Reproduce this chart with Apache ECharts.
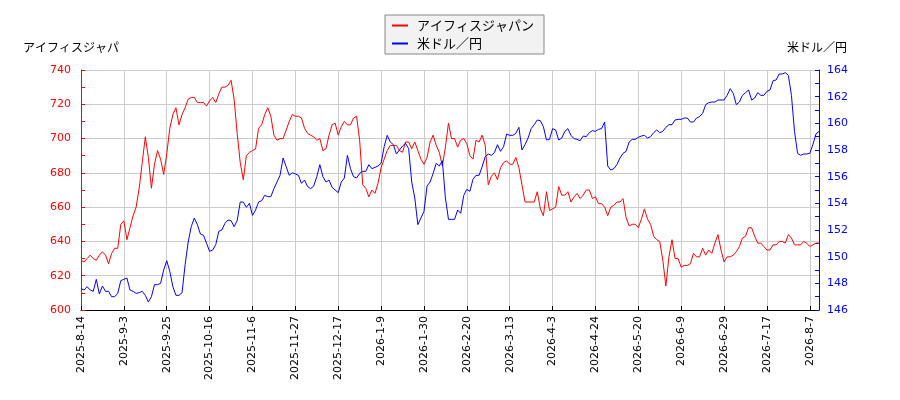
<!DOCTYPE html>
<html>
<head>
<meta charset="utf-8">
<script src="https://cdn.jsdelivr.net/npm/echarts@6/dist/echarts.min.js"></script>
<style>
  html, body { margin: 0; padding: 0; background: #fff; }
  #chart { width: 900px; height: 400px; }
</style>
</head>
<body>
<div id="chart"></div>
<script>
// 営業日の開始日と休場日
const startDate = '2025-08-14';
const closedDays = [
    '2025-09-15', '2025-09-23', '2025-10-13', '2025-11-03', '2025-11-24', '2025-12-31',
    '2026-01-01', '2026-01-02', '2026-01-12', '2026-02-11', '2026-02-23', '2026-03-20',
    '2026-04-13', '2026-04-29', '2026-05-04', '2026-05-05', '2026-05-06', '2026-07-20',
    '2026-08-11'
];

// アイフィスジャパン 株価 (左軸)
const stockPrice = [
    629, 628, 630, 632, 630, 629, 632, 634, 632, 627, 633, 636, 636, 650, 652, 641, 648, 655, 660, 671,
    686, 701, 689, 671, 685, 693, 688, 679, 691, 706, 714, 718, 708, 714, 718, 723, 724, 724, 721, 721,
    721, 719, 722, 724, 721, 726, 730, 730, 731, 734, 723, 703, 686, 676, 690, 692, 693, 694, 706, 708,
    714, 718, 713, 702, 699, 700, 700, 705, 710, 714, 713, 713, 712, 706, 703, 702, 701, 699, 700, 693,
    694, 702, 708, 709, 702, 707, 710, 708, 708, 712, 713, 699, 673, 671, 666, 670, 668, 674, 683, 688,
    693, 696, 696, 696, 693, 692, 698, 698, 694, 698, 693, 688, 685, 689, 698, 702, 696, 692, 684, 695,
    709, 700, 700, 695, 699, 700, 697, 690, 688, 699, 698, 702, 696, 673, 678, 680, 676, 683, 686, 687,
    685, 685, 689, 683, 673, 663, 663, 663, 663, 669, 659, 655, 669, 658, 659, 660, 672, 667, 667, 669,
    663, 666, 668, 665, 667, 670, 670, 665, 666, 662, 662, 660, 655, 660, 661, 663, 663, 665, 654, 649,
    650, 650, 648, 653, 659, 653, 650, 643, 641, 640, 629, 614, 631, 641, 630, 630, 625, 626, 626, 627,
    633, 631, 631, 636, 632, 635, 633, 639, 644, 635, 628, 631, 631, 632, 634, 637, 642, 643, 648, 648,
    643, 639, 639, 637, 635, 635, 638, 638, 640, 640, 639, 644, 642, 638, 638, 638, 640, 639, 637, 638,
    639, 639
];

// 米ドル／円 (右軸)
const usdJpy = [
    147.6, 147.5, 147.75, 147.5, 147.4, 148.3, 147.2, 147.8, 147.4, 147.4, 147, 147, 147.25, 148.2, 148.3, 148.4, 147.5, 147.4, 147.25, 147.3,
    147.4, 147.1, 146.6, 147, 147.9, 147.9, 148, 149, 149.7, 148.9, 147.75, 147.1, 147.1, 147.3, 149.4, 151.1, 152.25, 152.9, 152.4, 151.7,
    151.6, 151, 150.4, 150.5, 150.9, 151.9, 152, 152.5, 152.75, 152.7, 152.25, 152.7, 154.1, 154.1, 153.7, 154, 153.1, 153.5, 154.1, 154.2,
    154.6, 154.5, 154.5, 155.1, 155.6, 156.1, 157.4, 156.75, 156.1, 156.3, 156.2, 156.1, 155.5, 155.75, 155.25, 155.1, 155.3, 156, 156.9, 156,
    155.6, 155.75, 155.2, 155, 154.8, 155.6, 155.9, 157.6, 156.6, 156, 155.9, 156.25, 156.4, 156.4, 156.9, 156.6, 156.7, 156.8, 157, 158.25,
    159.1, 158.6, 158.4, 157.7, 158, 158.3, 158.5, 158.1, 155.6, 154.4, 152.4, 152.9, 153.4, 155.3, 155.6, 156.25, 157, 156.8, 157.2, 154.4,
    152.8, 152.8, 152.8, 153.5, 153.25, 154.6, 155.05, 154.9, 155.8, 156.1, 156.1, 156.75, 157.5, 157.7, 157.6, 157.8, 158.4, 157.9, 158.25, 159.2,
    159.1, 159.1, 159.25, 159.7, 158, 158.4, 158.9, 159.6, 159.9, 160.25, 160.2, 159.75, 158.75, 158.8, 159.6, 159.5, 158.75, 158.9, 159.4, 159.6,
    159.1, 158.85, 158.8, 158.7, 159.05, 159, 159.3, 159.45, 159.4, 159.55, 159.6, 160.1, 156.8, 156.5, 156.6, 156.9, 157.4, 157.75, 157.9, 158.6,
    158.8, 158.8, 158.95, 159.05, 159.1, 158.9, 159, 159.3, 159.5, 159.3, 159.4, 159.7, 159.9, 159.9, 160.25, 160.3, 160.3, 160.4, 160.4, 160.1,
    160.1, 160.4, 160.5, 160.75, 161.4, 161.55, 161.6, 161.6, 161.75, 161.75, 161.75, 162.1, 162.6, 162.25, 161.4, 161.6, 162.1, 162.3, 162.5, 161.75,
    161.9, 162.3, 162.1, 162.1, 162.4, 162.5, 163.2, 163.25, 163.7, 163.7, 163.8, 163.6, 162.1, 159.4, 157.75, 157.6, 157.7, 157.7, 157.75, 158.4,
    159.2, 159.4
];

// 営業日の日付ラベルを作る
function tradingDays(start, count, closed) {
    const days = [];
    const d = new Date(start + 'T00:00:00');
    while (days.length < count) {
        const y = d.getFullYear(), m = d.getMonth() + 1, dd = d.getDate();
        const key = y + '-' + String(m).padStart(2, '0') + '-' + String(dd).padStart(2, '0');
        const wd = d.getDay();
        if (wd !== 0 && wd !== 6 && closed.indexOf(key) < 0) {
            days.push(y + '-' + m + '-' + dd);
        }
        d.setDate(d.getDate() + 1);
    }
    return days;
}

const dates = tradingDays(startDate, stockPrice.length, closedDays);

const labelFont = 'DejaVu Sans';
const jpFont = '"Noto Sans CJK JP", sans-serif';

const option = {
    animation: false,
    title: [
        { text: 'アイフィスジャパ', left: 18, top: 36, textStyle: { fontSize: 12, fontWeight: 'normal', color: '#000', fontFamily: jpFont } },
        { text: '米ドル／円', right: 48, top: 36, textStyle: { fontSize: 12, fontWeight: 'normal', color: '#000', fontFamily: jpFont } }
    ],
    legend: {
        left: 385,
        top: 15,
        orient: 'vertical',
        itemGap: 5,
        padding: [4, 10, 4, 7],
        backgroundColor: '#f2f2f2',
        borderColor: '#888',
        borderWidth: 1,
        borderRadius: 0,
        icon: 'rect',
        itemWidth: 16,
        itemHeight: 2,
        textStyle: { fontSize: 13, color: '#000', fontFamily: jpFont, padding: [0, 0, 0, 4] },
        data: ['アイフィスジャパン', '米ドル／円']
    },
    grid: { left: 81, right: 81, top: 70, bottom: 90 },
    xAxis: {
        type: 'category',
        data: dates,
        boundaryGap: false,
        axisLine: { lineStyle: { color: '#000' } },
        axisTick: { inside: true, interval: 13, length: 4, lineStyle: { color: '#000' } },
        axisLabel: { interval: 13, rotate: 90, fontSize: 11, color: '#000', fontFamily: labelFont, margin: 6 },
        splitLine: { show: true, interval: 13, lineStyle: { color: '#ccc' } }
    },
    yAxis: [
        {
            type: 'value',
            min: 600,
            max: 740,
            interval: 20,
            axisLine: { show: true, lineStyle: { color: '#ff0000' } },
            axisTick: { show: true, inside: true, length: 4 },
            minorTick: { show: true, splitNumber: 2, length: 4, lineStyle: { color: '#ff0000' } },
            axisLabel: { fontSize: 11, color: '#ff0000', fontFamily: labelFont, margin: 10 },
            splitLine: { show: true, lineStyle: { color: '#ccc' } }
        },
        {
            type: 'value',
            min: 146,
            max: 164,
            interval: 2,
            axisLine: { show: true, lineStyle: { color: '#0000ff' } },
            axisTick: { show: true, inside: true, length: 4 },
            minorTick: { show: true, splitNumber: 2, length: 4, lineStyle: { color: '#0000ff' } },
            axisLabel: { fontSize: 11, color: '#0000ff', fontFamily: labelFont, margin: 8 },
            splitLine: { show: false }
        }
    ],
    series: [
        {
            name: 'アイフィスジャパン',
            type: 'line',
            data: stockPrice,
            yAxisIndex: 0,
            showSymbol: false,
            color: '#ff0000',
            lineStyle: { width: 1, color: '#ff0000' }
        },
        {
            name: '米ドル／円',
            type: 'line',
            data: usdJpy,
            yAxisIndex: 1,
            showSymbol: false,
            color: '#0000ff',
            lineStyle: { width: 1, color: '#0000ff' }
        }
    ]
};

const chart = echarts.init(document.getElementById('chart'));
chart.setOption(option);
</script>
</body>
</html>
